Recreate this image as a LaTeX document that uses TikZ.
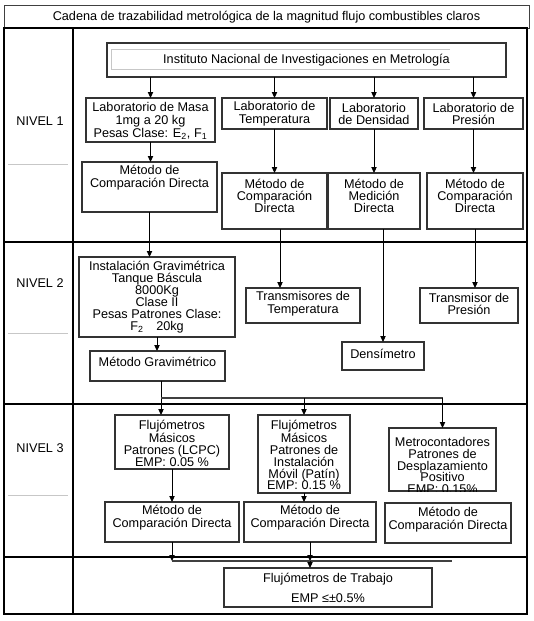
\documentclass[tikz,border=0pt]{standalone}
\usepackage{fontspec}
\setmainfont{Liberation Sans}
\usetikzlibrary{arrows.meta,fit}
\begin{document}
\begin{tikzpicture}[x=0.75pt,y=-0.75pt,
  every node/.style={inner sep=0pt, outer sep=0pt},
  bx/.style={draw=black!80, line width=0.9pt, inner sep=0pt},
  tbx/.style={draw=black!75, line width=0.7pt, inner sep=0pt},
  txt/.style={align=center, font=\fontsize{9.5}{9.6}\selectfont},
  tight/.style={font=\fontsize{9.5}{8.9}\selectfont},
  frm/.style={draw=black, line width=1.4pt},
  faint/.style={draw=black!22, line width=0.6pt},
  arr/.style={draw=black, line width=0.75pt, -{Triangle[length=4.5pt,width=4pt]}},
  ln/.style={draw=black!75, line width=1pt}]
\useasboundingbox (0,0) rectangle (533,621);

% title and frame
\node[tbx, fit={(4,5)(529,28)}] (title) {};
\node[txt] (title-t) at (266.5,17) {Cadena de trazabilidad metrológica de la magnitud flujo combustibles claros};
\draw[frm] (4,28) rectangle (527,614);
\draw[frm] (73,28) -- (73,614);
\draw[frm] (4,242) -- (527,242);
\draw[frm] (4,404) -- (527,404);
\draw[frm] (4,557) -- (527,557);

% faint text-box traces in the level column
\draw[faint] (8,164) -- (68,164);
\draw[faint] (8,333) -- (68,333);
\draw[faint] (8,495) -- (68,495);

\node[txt] (n1) at (40,121) {NIVEL 1};
\node[txt] (n2) at (40,283) {NIVEL 2};
\node[txt] (n3) at (40,448) {NIVEL 3};

% level 1
\node[bx, fit={(107,43)(506,77)}] (inm) {};
\draw[faint] (450,49) -- (111,49) -- (111,69) -- (450,69);
\node[txt] (inm-t) at (306.5,60) {Instituto Nacional de Investigaciones en Metrología};

\node[bx, fit={(86,98)(215,142)}] (masa) {};
\node[txt] (masa-t) at (150.5,121) {Laboratorio de Masa\\1mg a 20 kg\\Pesas Clase: E\textsubscript{2}, F\textsubscript{1}};
\node[bx, fit={(222,98)(327,129)}] (temp) {};
\node[txt] (temp-t) at (274.5,114) {Laboratorio de\\Temperatura};
\node[bx, fit={(330,98)(418,129)}] (dens) {};
\node[txt] (dens-t) at (374,114) {Laboratorio\\de Densidad};
\node[bx, fit={(424,98)(523,129)}] (pres) {};
\node[txt] (pres-t) at (473.5,114) {Laboratorio de\\Presión};

\node[bx, fit={(82,162)(217,212)}] (masaM) {};
\node[txt] (masaM-t) at (149.5,178) {Método de\\Comparación Directa};
\node[bx, fit={(222,173)(327,229)}] (tempM) {};
\node[txt, tight] (tempM-t) at (274.5,196) {Método de\\Comparación\\Directa};
\node[bx, fit={(328,173)(420,229)}] (densM) {};
\node[txt, tight] (densM-t) at (374,196) {Método de\\Medición\\Directa};
\node[bx, fit={(427,173)(523,229)}] (presM) {};
\node[txt, tight] (presM-t) at (475,196) {Método de\\Comparación\\Directa};

\draw[arr] (inm.south -| masa.north) -- (masa.north);
\draw[arr] (inm.south -| temp.north) -- (temp.north);
\draw[arr] (inm.south -| dens.north) -- (dens.north);
\draw[arr] (inm.south -| pres.north) -- (pres.north);
\draw[arr] (masa.south) -- (masa.south |- masaM.north);
\draw[arr] (temp.south) -- (tempM.north);
\draw[arr] (dens.south) -- (densM.north);
\draw[arr] (pres.south) -- (pres.south |- presM.north);

% level 2
\node[bx, fit={(79,257)(235,337)}] (inst) {};
\node[txt, tight] (inst-t) at (157,297) {Instalación Gravimétrica\\Tanque Báscula\\8000Kg\\Clase II\\Pesas Patrones Clase:\\F\textsubscript{2}\quad 20kg};
\node[bx, fit={(246,288)(360,323)}] (transT) {};
\node[txt] (transT-t) at (303,304) {Transmisores de\\Temperatura};
\node[bx, fit={(420,288)(518,323)}] (transP) {};
\node[txt] (transP-t) at (469,304) {Transmisor de\\Presión};
\node[bx, fit={(342,342)(424,370)}] (densi) {};
\node[txt] (densi-t) at (383,354) {Densímetro};
\node[bx, fit={(90,351)(225,381)}] (grav) {};
\node[txt] (grav-t) at (157.5,362) {Método Gravimétrico};

\coordinate (cT) at (280,0);
\draw[arr] (masaM.south) -- (masaM.south |- inst.north);
\draw[arr] (tempM.south -| cT) -- (transT.north -| cT);
\draw[arr] (densM.south -| densi.north) -- (densi.north);
\draw[arr] (presM.south) -- (presM.south |- transP.north);
\draw[arr] (inst.south) -- (inst.south |- grav.north);

% level 3
\node[bx, fit={(115,415)(229,469)}] (lcpc) {};
\node[txt, tight] (lcpc-t) at (172,443) {Flujómetros\\Másicos\\Patrones (LCPC)\\EMP: 0.05 \%};
\node[bx, fit={(258,415)(350,493)}] (patin) {};
\node[txt, tight] (patin-t) at (304,455) {Flujómetros\\Másicos\\Patrones de\\Instalación\\Móvil (Patín)\\EMP: 0.15 \%};
\node[bx, fit={(389,428)(496,491)}] (metro) {};
\begin{scope}
\clip (metro.south west) rectangle (metro.north east);
\node[txt, tight] (metro-t) at (442.5,465.5) {Metrocontadores\\Patrones de\\Desplazamiento\\Positivo\\EMP: 0.15\%};
\end{scope}

\node[bx, fit={(105,502)(239,542)}] (m1) {};
\node[txt] (m1-t) at (172,518) {Método de\\Comparación Directa};
\node[bx, fit={(244,502)(376,542)}] (m2) {};
\node[txt] (m2-t) at (310,518) {Método de\\Comparación Directa};
\node[bx, fit={(385,503)(511,543)}] (m3) {};
\node[txt] (m3-t) at (448,520) {Método de\\Comparación Directa};

\coordinate (cG) at (161,0);
\coordinate (bus) at (0,398);
\draw[arr] (grav.south -| cG) -- (lcpc.north -| cG);
\draw[ln] (bus -| cG) -- (bus -| metro.north);
\draw[arr] (bus -| patin.north) -- (patin.north);
\draw[arr] (bus -| metro.north) -- (metro.north);
\draw[arr] (lcpc.south) -- (lcpc.south |- m1.north);
\draw[arr] (patin.south) -- (patin.south |- m2.north);

% level 4
\node[bx, fit={(224,568)(432,607)}] (trab) {};
\node[txt] (trab-t) at (328,588) {Flujómetros de Trabajo\\[5pt]EMP ≤±0.5\%};

\coordinate (bus2) at (0,561);
\coordinate (bus2e) at (452,561);
\draw[arr] (m1.south) -- (m1.south |- bus2);
\draw[arr] (m2.south) -- (m2.south |- bus2);
\draw[ln] (m1.south |- bus2) -- (bus2e);
\draw[arr] (m2.south |- bus2) -- (m2.south |- trab.north);
\end{tikzpicture}
\end{document}
